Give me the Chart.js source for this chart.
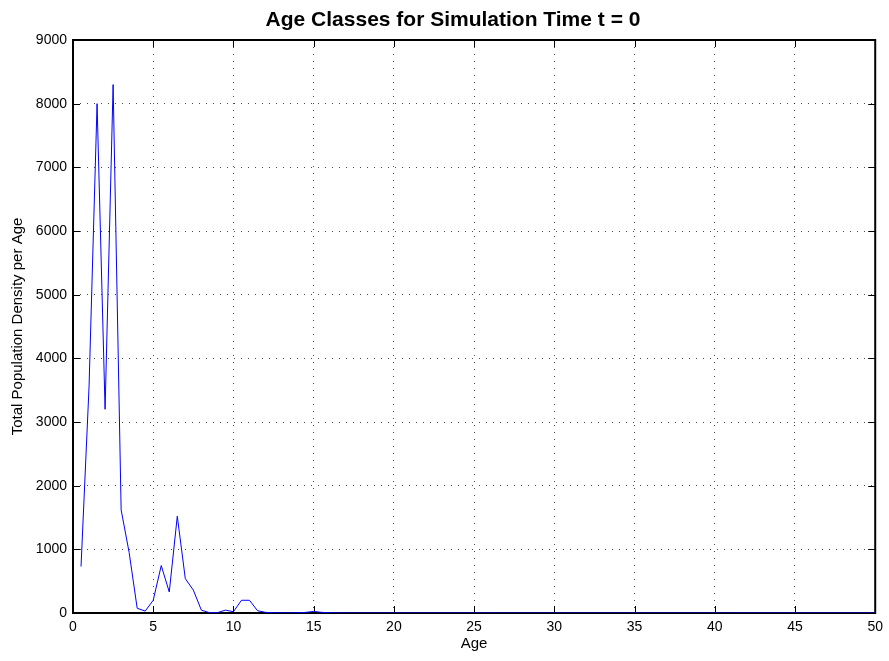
<!DOCTYPE html>
<html>
<head>
<meta charset="utf-8">
<title>Age Classes</title>
<script src="https://cdn.jsdelivr.net/npm/chart.js@4.4.1/dist/chart.umd.min.js"></script>
<style>
  html, body { margin: 0; padding: 0; background: #fff; }
  #wrap { width: 889px; height: 661px; }
</style>
</head>
<body>
<div id="wrap"><canvas id="ageChart" width="889" height="661"></canvas></div>
<script>
// age classes (years), half-year steps
const ages = [
  0.5, 1, 1.5, 2, 2.5, 3, 3.5, 4, 4.5, 5,
  5.5, 6, 6.5, 7, 7.5, 8, 8.5, 9, 9.5, 10,
  10.5, 11, 11.5, 12, 12.5, 13, 13.5, 14, 14.5, 15,
  15.5, 16, 16.5, 17, 17.5, 18, 18.5, 19, 19.5, 20,
  20.5, 21, 21.5, 22, 22.5, 23, 23.5, 24, 24.5, 25,
  25.5, 26, 26.5, 27, 27.5, 28, 28.5, 29, 29.5, 30,
  30.5, 31, 31.5, 32, 32.5, 33, 33.5, 34, 34.5, 35,
  35.5, 36, 36.5, 37, 37.5, 38, 38.5, 39, 39.5, 40,
  40.5, 41, 41.5, 42, 42.5, 43, 43.5, 44, 44.5, 45,
  45.5, 46, 46.5, 47, 47.5, 48, 48.5, 49, 49.5, 50
];

// total population density per age class at t = 0
const density = [
  730, 3550, 8000, 3200, 8300, 1620, 950, 75, 30, 200,
  745, 330, 1520, 540, 360, 45, 5, 5, 45, 20,
  200, 200, 36, 10, 5, 2, 2, 5, 10, 25,
  10, 4, 2, 1, 0, 0, 0, 0, 0, 0,
  0, 0, 0, 0, 0, 0, 0, 0, 0, 0,
  0, 0, 0, 0, 0, 0, 0, 0, 0, 0,
  0, 0, 0, 0, 0, 0, 0, 0, 0, 0,
  0, 0, 0, 0, 0, 0, 0, 0, 0, 0,
  0, 0, 0, 0, 0, 0, 0, 0, 0, 0,
  0, 0, 0, 0, 0, 0, 0, 0, 0, 0
];

const xTicks = [0, 5, 10, 15, 20, 25, 30, 35, 40, 45, 50];
const yTicks = [0, 1000, 2000, 3000, 4000, 5000, 6000, 7000, 8000, 9000];

const titleText = "Age Classes for Simulation Time t = 0";
const FONT = "'Liberation Sans', Arial, Helvetica, sans-serif";

// box around the axes with small inward tick marks on every side
const axesBox = {
  id: "axesBox",
  beforeDatasetsDraw(chart) {
    const { ctx, chartArea: a, scales: { x, y } } = chart;
    const len = 7;
    ctx.save();
    ctx.strokeStyle = "#000";
    ctx.lineWidth = 1;
    ctx.beginPath();
    x.ticks.forEach(t => {
      const px = Math.round(x.getPixelForValue(t.value)) + 0.5;
      ctx.moveTo(px, a.bottom); ctx.lineTo(px, a.bottom - len);
      ctx.moveTo(px, a.top); ctx.lineTo(px, a.top + len);
    });
    y.ticks.forEach(t => {
      const py = Math.round(y.getPixelForValue(t.value)) + 0.5;
      ctx.moveTo(a.left, py); ctx.lineTo(a.left + len, py);
      ctx.moveTo(a.right, py); ctx.lineTo(a.right - len, py);
    });
    ctx.stroke();
    ctx.lineWidth = 2;
    ctx.strokeRect(a.left, a.top, a.right - a.left, a.bottom - a.top);
    ctx.restore();
  },
  afterDraw(chart) {
    const { ctx } = chart;
    ctx.save();
    ctx.fillStyle = "#000";
    ctx.font = "bold 21px " + FONT;
    ctx.textAlign = "center";
    ctx.textBaseline = "middle";
    ctx.fillText(titleText, 453, 20);
    ctx.restore();
  }
};

const plain = v => String(v);

new Chart(document.getElementById("ageChart"), {
  type: "line",
  data: {
    datasets: [{
      label: "density",
      data: ages.map((a, i) => ({ x: a, y: density[i] })),
      borderColor: "#0000ff",
      borderWidth: 1,
      pointRadius: 0,
      tension: 0,
      fill: false
    }]
  },
  options: {
    responsive: false,
    animation: false,
    devicePixelRatio: 1,
    layout: { padding: { left: 0, right: 13, top: 40, bottom: 0 } },
    plugins: {
      legend: { display: false },
      tooltip: { enabled: false },
      title: { display: false }
    },
    scales: {
      x: {
        type: "linear",
        min: 0,
        max: 50,
        afterBuildTicks: s => { s.ticks = xTicks.map(v => ({ value: v })); },
        afterFit: s => { s.height = 48; },
        ticks: { color: "#000", font: { family: FONT, size: 14 }, padding: 6, maxRotation: 0, callback: plain },
        grid: { color: "rgba(0,0,0,0.7)", lineWidth: 1, drawTicks: false },
        border: { display: false, dash: [1, 6] },
        title: {
          display: true, text: "Age", color: "#000",
          font: { family: FONT, size: 15 }, padding: { top: 0, bottom: 8 }
        }
      },
      y: {
        type: "linear",
        min: 0,
        max: 9000,
        afterBuildTicks: s => { s.ticks = yTicks.map(v => ({ value: v })); },
        afterFit: s => { s.width = 73; },
        ticks: { color: "#000", font: { family: FONT, size: 14 }, padding: 6, callback: plain },
        grid: { color: "rgba(0,0,0,0.7)", lineWidth: 1, drawTicks: false },
        border: { display: false, dash: [1, 6] },
        title: {
          display: true, text: "Total Population Density per Age", color: "#000",
          font: { family: FONT, size: 15 }, padding: { top: 9, bottom: 0 }
        }
      }
    }
  },
  plugins: [axesBox]
});
</script>
</body>
</html>
